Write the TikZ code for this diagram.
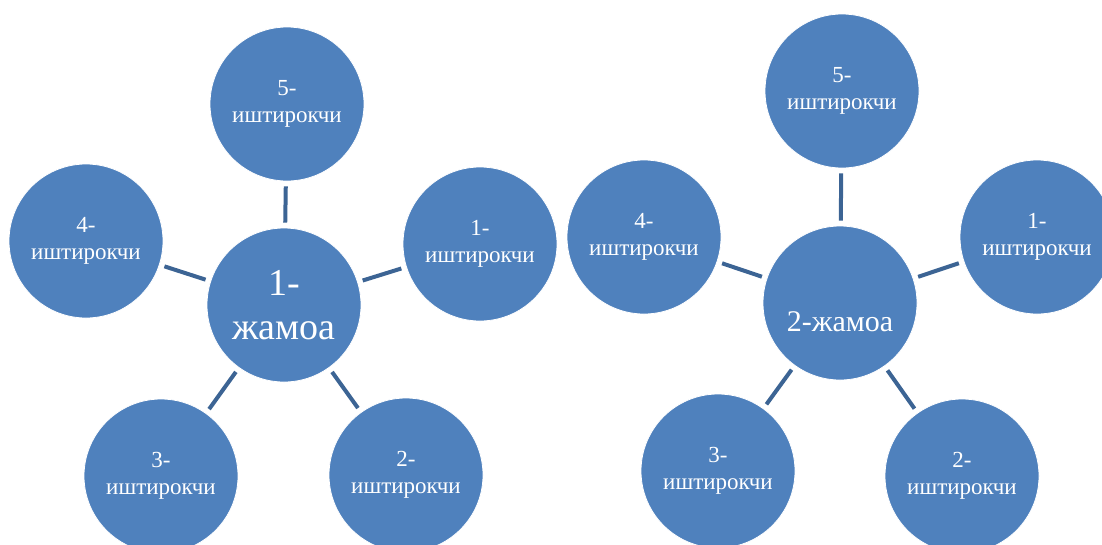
\documentclass[tikz,border=0pt]{standalone}
\usepackage{fontspec}
\setmainfont{Liberation Serif}
\usepackage{tikz}
\usetikzlibrary{positioning}
\definecolor{circlecolor}{RGB}{79, 129, 189}
\definecolor{linkcolor}{RGB}{60, 100, 148}
\begin{document}
\begin{tikzpicture}[x=1pt, y=-1pt,
    member/.style={circle, draw=white, line width=0.8pt, fill=circlecolor, minimum size=154pt, inner sep=0pt, text=white, font=\fontsize{23}{27}\selectfont, align=center},
    hub/.style={member, font=\fontsize{38}{44}\selectfont},
    link/.style={draw=linkcolor, line width=4pt, shorten <=5pt, shorten >=5pt}]
        \useasboundingbox (0, 0) rectangle (1102, 544);

        % First team
        \node[hub] (teamA) at (284, 305) {1-\\жамоа};
        \node[member] (a5) at (287, 104) {5-\\иштирокчи};
        \node[member] (a1) at (480, 244) {1-\\иштирокчи};
        \node[member] (a4) at (86, 241) {4-\\иштирокчи};
        \node[member] (a3) at (161, 476) {3-\\иштирокчи};
        \node[member] (a2) at (406, 475) {2-\\иштирокчи};

        % Links of the first team
        \draw[link] (teamA) -- (a5);
        \draw[link] (teamA) -- (a1);
        \draw[link] (teamA) -- (a4);
        \draw[link] (teamA) -- (a3);
        \draw[link] (teamA) -- (a2);

        % Second team
        \node[hub, label={[text=white, font=\fontsize{30}{36}\selectfont, yshift=-19pt]center:2-жамоа}] (teamB) at (840, 303) {};
        \node[member] (b5) at (842, 91) {5-\\иштирокчи};
        \node[member] (b1) at (1037, 237) {1-\\иштирокчи};
        \node[member] (b4) at (644, 237) {4-\\иштирокчи};
        \node[member] (b3) at (718, 471) {3-\\иштирокчи};
        \node[member] (b2) at (962, 476) {2-\\иштирокчи};

        % Links of the second team
        \draw[link] (teamB) -- (b5);
        \draw[link] (teamB) -- (b1);
        \draw[link] (teamB) -- (b4);
        \draw[link] (teamB) -- (b3);
        \draw[link] (teamB) -- (b2);

    \end{tikzpicture}
\end{document}
